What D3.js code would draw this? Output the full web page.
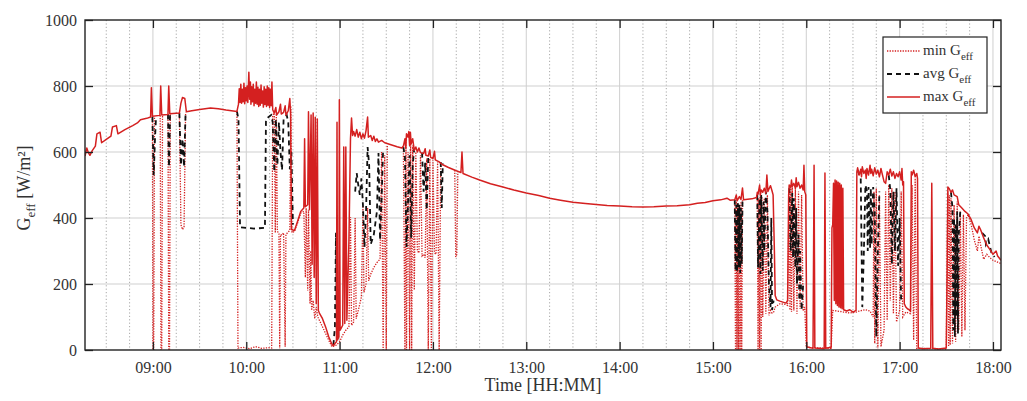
<!DOCTYPE html>
<html>
<head>
<meta charset="utf-8">
<script src="https://cdn.jsdelivr.net/npm/d3@7"></script>
<style>
  body { margin: 0; background: #fff; }
  svg { display: block; font-family: "Liberation Serif", "DejaVu Serif", serif; }
</style>
</head>
<body>
<svg id="chart" width="1027" height="401"></svg>
<script>
// Axis ticks
const hourTicks = ["09:00", "10:00", "11:00", "12:00", "13:00", "14:00", "15:00", "16:00", "17:00", "18:00"];
const yTicks = [0, 200, 400, 600, 800, 1000];
const timeRange = ["08:16:20", "18:05:10"];
const legendNames = ["min", "avg", "max"];

// Maximum effective irradiance per interval [time, W/m²]
const maxSeries = [
  ["08:16:20", 588], ["08:17:30", 612], ["08:18:30", 598], ["08:19:30", 590], ["08:21", 604],
  ["08:23", 618], ["08:24", 655], ["08:26", 660], ["08:27", 628], ["08:30", 638],
  ["08:33", 648], ["08:34", 676], ["08:36:30", 680], ["08:37:30", 655], ["08:42", 668],
  ["08:47", 680], ["08:50", 688], ["08:52", 698], ["08:56", 702], ["08:58:30", 706],
  ["08:59", 795], ["08:59:40", 708], ["09:04:30", 711], ["09:05", 800], ["09:05:40", 712],
  ["09:09:40", 714], ["09:10:10", 800], ["09:10:50", 716], ["09:17", 718], ["09:18", 748],
  ["09:19", 765], ["09:20:30", 762], ["09:21:30", 722], ["09:25", 725], ["09:30", 729],
  ["09:37", 733], ["09:42", 731], ["09:47", 727], ["09:54", 723],
  ["09:55", 745], ["09:55:30", 792], ["09:56", 750], ["09:56:30", 805], ["09:57", 748], ["09:57:30", 790],
  ["09:58", 752], ["09:58:30", 808], ["09:59", 746], ["09:59:30", 795], ["10:00", 755], ["10:00:30", 800],
  ["10:01", 750], ["10:01:40", 842], ["10:02:10", 760], ["10:02:40", 812], ["10:03", 745], ["10:03:30", 798],
  ["10:04", 752], ["10:04:30", 805], ["10:05", 740], ["10:05:30", 790], ["10:06", 748], ["10:06:30", 812],
  ["10:07", 745], ["10:07:30", 796], ["10:08", 738], ["10:08:30", 790], ["10:09", 742], ["10:09:30", 803],
  ["10:10", 748], ["10:10:30", 785], ["10:11", 736], ["10:11:30", 798], ["10:12", 744], ["10:12:30", 790],
  ["10:13", 738], ["10:13:30", 800], ["10:14", 742], ["10:14:30", 795], ["10:15", 735], ["10:15:30", 790],
  ["10:16", 740], ["10:16:30", 812], ["10:17", 728],
  ["10:18", 718], ["10:19", 735], ["10:19:30", 712], ["10:21", 722], ["10:22", 745], ["10:22:30", 715],
  ["10:24", 720], ["10:25", 740], ["10:25:30", 712], ["10:27", 725], ["10:28", 762], ["10:28:30", 715],
  ["10:29", 365], ["10:31", 362], ["10:33", 390], ["10:35", 420], ["10:37", 430], ["10:37:30", 640],
  ["10:38", 434], ["10:39:30", 440], ["10:40", 722], ["10:40:40", 425], ["10:41:40", 712], ["10:42:20", 260],
  ["10:43", 718], ["10:43:40", 220], ["10:44:20", 705], ["10:45", 140], ["10:45:40", 700], ["10:46:20", 120],
  ["10:47", 112], ["10:49", 95],
  ["10:51", 70], ["10:53", 40], ["10:55", 18], ["10:56", 12], ["10:57", 20], ["10:58", 25],
  ["10:58:20", 690], ["10:58:40", 30], ["10:59:30", 40], ["10:59:50", 758], ["11:00:20", 60], ["11:02", 75],
  ["11:02:40", 615], ["11:03:20", 80], ["11:04", 615], ["11:04:40", 90], ["11:06", 330], ["11:07", 640],
  ["11:07:40", 703], ["11:08:20", 650],
  ["11:09", 662], ["11:10", 648], ["11:11", 668], ["11:12", 645], ["11:13", 660], ["11:14", 640],
  ["11:15", 655], ["11:16", 642], ["11:17", 665], ["11:18", 706], ["11:18:30", 645], ["11:20", 650],
  ["11:21", 635], ["11:22", 648], ["11:23", 632], ["11:24", 640], ["11:25", 630], ["11:27", 635],
  ["11:29", 628], ["11:33", 622], ["11:37", 616], ["11:40", 612],
  ["11:41", 618], ["11:42", 640], ["11:42:30", 612], ["11:43", 655], ["11:44", 645], ["11:44:30", 662],
  ["11:45", 620], ["11:45:30", 660], ["11:46", 625], ["11:47", 640], ["11:48", 605], ["11:49", 615],
  ["11:50", 600], ["11:51", 612], ["11:52", 598], ["11:54", 595], ["11:55", 610], ["11:55:30", 590],
  ["11:57", 588], ["11:58", 606], ["11:58:30", 584], ["12:00", 580], ["12:01", 602], ["12:01:30", 576],
  ["12:04", 570], ["12:06", 562], ["12:10", 553], ["12:15", 543], ["12:18", 538], ["12:18:40", 600],
  ["12:19:20", 535], ["12:25", 524], ["12:30", 515], ["12:37", 504], ["12:45", 494], ["12:52", 485],
  ["13:00", 476], ["13:08", 468], ["13:15", 460], ["13:22", 454], ["13:30", 448], ["13:38", 444],
  ["13:45", 441], ["13:52", 438], ["14:00", 436], ["14:08", 434], ["14:15", 433], ["14:22", 434],
  ["14:30", 436], ["14:37", 437], ["14:45", 440], ["14:50", 445], ["14:55", 447], ["15:00", 452],
  ["15:05", 455], ["15:09", 460], ["15:11", 454], ["15:14", 455],
  ["15:15", 470], ["15:15:30", 452], ["15:17", 465], ["15:18", 456], ["15:19", 491], ["15:19:40", 455],
  ["15:21", 456], ["15:25", 458], ["15:28", 462],
  ["15:28:30", 478], ["15:29", 472], ["15:30", 500], ["15:30:30", 470], ["15:31", 485], ["15:32", 478],
  ["15:33", 490], ["15:34", 475], ["15:34:40", 530], ["15:35:20", 480], ["15:36", 488], ["15:37", 498],
  ["15:38", 482], ["15:38:40", 470], ["15:39:30", 300], ["15:40", 165], ["15:41", 152], ["15:43", 148],
  ["15:45", 145], ["15:47", 142], ["15:48", 150], ["15:48:40", 470], ["15:49", 500], ["15:50", 492],
  ["15:50:30", 515], ["15:51", 496], ["15:52", 505], ["15:53", 490], ["15:53:30", 522], ["15:54", 495],
  ["15:55", 508], ["15:56", 490], ["15:57", 500], ["15:58", 485], ["15:58:30", 560], ["15:59", 480],
  ["15:59:40", 470], ["16:00:20", 10], ["16:04:20", 5], ["16:05", 560], ["16:05:30", 6], ["16:11:30", 4],
  ["16:12", 536], ["16:12:30", 5], ["16:16", 8], ["16:16:30", 370], ["16:17", 380], ["16:17:30", 505],
  ["16:18", 150], ["16:18:30", 515], ["16:19", 140], ["16:19:30", 512], ["16:20", 135], ["16:20:30", 508],
  ["16:21", 130], ["16:21:30", 505], ["16:22", 128], ["16:22:30", 500], ["16:23", 125], ["16:23:30", 490],
  ["16:24", 122], ["16:26", 118], ["16:28", 122], ["16:30", 115], ["16:32", 120], ["16:32:30", 540],
  ["16:33", 552], ["16:34", 530], ["16:35", 548], ["16:35:30", 525], ["16:36", 555], ["16:37", 535],
  ["16:38", 545], ["16:38:30", 520], ["16:39", 550], ["16:40", 530], ["16:41", 560], ["16:41:30", 535],
  ["16:42", 548], ["16:43", 528], ["16:44", 552], ["16:45", 533], ["16:46", 545], ["16:47", 525],
  ["16:48", 550], ["16:49", 530], ["16:50", 510], ["16:51", 505], ["16:52", 540], ["16:53", 530],
  ["16:54", 548], ["16:55", 527], ["16:56", 540], ["16:57", 520], ["16:58", 535], ["16:59", 525],
  ["17:00", 540], ["17:01", 515], ["17:01:30", 550], ["17:02", 500], ["17:02:30", 510], ["17:03", 140],
  ["17:04", 130], ["17:05", 125], ["17:06", 122], ["17:07", 118], ["17:07:30", 540], ["17:08", 530],
  ["17:09", 545], ["17:10", 525], ["17:11", 535], ["17:11:30", 520], ["17:12", 6], ["17:15", 4],
  ["17:20", 5], ["17:20:40", 505], ["17:21:20", 5], ["17:25", 3], ["17:30", 6], ["17:30:40", 300],
  ["17:31", 494], ["17:32", 488], ["17:33", 478], ["17:34", 485], ["17:35", 470], ["17:37", 465],
  ["17:38", 440], ["17:40", 430], ["17:42", 420], ["17:44", 412], ["17:46", 395], ["17:48", 370],
  ["17:50", 355], ["17:51", 375], ["17:52", 365], ["17:54", 340], ["17:56", 318], ["17:58", 305],
  ["18:00", 290], ["18:02", 300], ["18:03", 285], ["18:05:10", 272]
];

// Mean effective irradiance, only where it departs from the clear-sky trace (null = gap)
const avgSeries = [
  ["08:59:40", 706], ["09:00:30", 530], ["09:01:20", 640], ["09:02", 706], null,
  ["09:09:40", 714], ["09:10:20", 555], ["09:11", 714], null,
  ["09:17", 718], ["09:18", 560], ["09:19", 640], ["09:20", 555], ["09:21", 720], null,
  ["09:54", 723], ["09:55", 700], ["09:56", 372], ["10:05", 368], ["10:12", 370], ["10:12:40", 700], ["10:16", 712],
  ["10:17", 690], ["10:18", 540], ["10:19", 700], ["10:20", 560], ["10:21", 690], ["10:22", 600],
  ["10:23", 545], ["10:24", 700], ["10:26", 712], ["10:27", 690], ["10:28", 548], ["10:29", 600], ["10:30", 380], null,
  ["10:56", 15], ["10:57", 70], ["10:57:40", 355], ["10:58:20", 60], ["10:59", 40], null,
  ["11:10", 480], ["11:11", 536], ["11:12", 500], ["11:13", 470], ["11:14", 520], ["11:15", 440],
  ["11:16", 312], ["11:17", 420], ["11:18", 615], ["11:19", 560], ["11:20", 320], ["11:22", 350],
  ["11:24", 420], ["11:25", 597], ["11:26", 333], ["11:27", 460], ["11:28", 610], null,
  ["11:41", 615], ["11:42", 585], ["11:43", 312], ["11:44", 450], ["11:45", 590], ["11:46", 340],
  ["11:47", 560], ["11:48", 610], null,
  ["11:53", 598], ["11:54", 480], ["11:55", 567], ["11:56", 424], ["11:57", 588], null,
  ["12:05", 570], ["12:05:40", 430], ["12:06:20", 565], null,
  ["15:14", 455], ["15:14:30", 240], ["15:15", 440], ["15:15:30", 235], ["15:16", 445], ["15:16:30", 250],
  ["15:17", 440], ["15:17:30", 233], ["15:18", 430], ["15:18:30", 260], ["15:19", 455], null,
  ["15:28:30", 470], ["15:29", 250], ["15:30", 460], ["15:30:30", 230], ["15:31", 470], ["15:32", 240],
  ["15:32:30", 450], ["15:33", 300], ["15:34", 480], ["15:35", 420], ["15:36", 200], ["15:37", 130],
  ["15:37:30", 400], ["15:38", 121], ["15:39", 150], null,
  ["15:49", 490], ["15:50", 300], ["15:51", 476], ["15:51:30", 280], ["15:52", 460], ["15:53", 250],
  ["15:53:30", 430], ["15:54", 200], ["15:55", 350], ["15:55:30", 150], ["15:56", 300], ["15:57", 121],
  ["15:58", 200], null,
  ["16:33", 545], ["16:35", 520], ["16:36", 130], ["16:37", 294], ["16:38", 500], ["16:39", 480],
  ["16:39:30", 300], ["16:40", 494], ["16:41", 310], ["16:41:30", 490], ["16:42", 320], ["16:43", 494],
  ["16:44", 420], ["16:45", 40], ["16:46", 300], ["16:47", 480], null,
  ["16:53", 530], ["16:54", 485], ["16:55", 260], ["16:56", 480], ["16:57", 300], ["16:58", 490],
  ["16:59", 255], ["17:00", 400], ["17:01", 140], null,
  ["17:33", 478], ["17:34", 430], ["17:34:30", 60], ["17:35", 400], ["17:35:30", 40], ["17:36", 380],
  ["17:36:30", 100], ["17:37", 420], ["17:37:30", 50], ["17:38", 350], ["17:39", 420], null,
  ["17:53", 355], ["17:55", 345], ["17:55:30", 320], ["17:57", 335], ["17:59", 295], ["18:01", 282]
];

// Minimum effective irradiance, only where it departs from the clear-sky trace (null = gap)
const minSeries = [
  ["08:59:40", 708], ["09:00", 0], ["09:00:30", 0], ["09:01", 706], null,
  ["09:04:40", 711], ["09:05:10", 0], ["09:05:40", 0], ["09:06:10", 712], null,
  ["09:09:40", 714], ["09:10:10", 0], ["09:10:40", 0], ["09:11:10", 716], null,
  ["09:17", 718], ["09:18", 380], ["09:19", 365], ["09:20", 372], ["09:21", 720], null,
  ["09:54", 723], ["09:54:40", 6], ["09:58", 8], ["10:02", 4], ["10:06", 10], ["10:10", 5], ["10:14", 7],
  ["10:16:20", 6], ["10:17", 712], ["10:18", 718], ["10:18:40", 355], ["10:19:20", 720], ["10:20", 360],
  ["10:21", 352], ["10:21:30", 5], ["10:22", 350], ["10:23", 348], ["10:24", 355], ["10:25", 10],
  ["10:25:30", 350], ["10:27", 358], ["10:28", 362], ["10:28:40", 740], ["10:29:20", 355], ["10:31", 360],
  ["10:33", 385], ["10:35", 415], ["10:37", 420], ["10:38", 220], ["10:38:30", 430], ["10:39:30", 180],
  ["10:40", 425], ["10:41", 140], ["10:41:30", 300], ["10:42", 120], ["10:43", 150], ["10:44", 95],
  ["10:45", 130], ["10:46", 100], ["10:47", 90], ["10:50", 60], ["10:53", 30], ["10:55", 10], ["10:58", 15],
  ["11:00", 25], ["11:02", 45], ["11:04", 60], ["11:06", 70], ["11:07", 403], ["11:07:40", 75], ["11:09", 85],
  ["11:10", 400], ["11:10:40", 95], ["11:12", 120], ["11:14", 160], ["11:15", 433], ["11:15:40", 175],
  ["11:17", 200], ["11:18", 430], ["11:18:40", 210], ["11:20", 230], ["11:22", 250], ["11:24", 265],
  ["11:26", 275], ["11:27", 600], ["11:28", 0], ["11:29", 590], ["11:30", 0], ["11:30:40", 620], null,
  ["11:41", 612], ["11:42", 0], ["11:42:40", 640], ["11:43", 0], ["11:44", 600], ["11:45", 0],
  ["11:45:40", 630], ["11:46:20", 0], ["11:47", 620], ["11:48", 182], ["11:49", 600], ["11:50", 300],
  ["11:51", 294], ["11:52", 590], ["11:53", 285], ["11:54", 290], ["11:55", 280], ["11:56", 580],
  ["11:57", 0], ["11:58", 580], ["11:59", 0], ["12:00", 575], ["12:01", 294], ["12:02", 290], ["12:03", 570],
  ["12:04", 0], ["12:05", 565], ["12:06", 562], null,
  ["12:14", 545], ["12:14:40", 282], ["12:15:20", 290], ["12:16", 542], null,
  ["15:14", 455], ["15:14:30", 0], ["15:15", 450], ["15:15:30", 0], ["15:16", 445], ["15:16:30", 0],
  ["15:17", 440], ["15:17:30", 0], ["15:18", 450], ["15:18:30", 0], ["15:19", 455], null,
  ["15:28:30", 470], ["15:29", 0], ["15:29:30", 460], ["15:30", 0], ["15:30:30", 470], ["15:31", 0],
  ["15:31:30", 465], ["15:32", 100], ["15:33", 460], ["15:34", 110], ["15:35", 470], ["15:36", 105],
  ["15:37", 120], ["15:38", 112], ["15:39", 115], ["15:40", 130], ["15:43", 140], ["15:47", 138],
  ["15:48", 135], ["15:49", 480], ["15:49:30", 121], ["15:50", 490], ["15:50:30", 115], ["15:51", 495],
  ["15:52", 120], ["15:53", 490], ["15:54", 110], ["15:55", 480], ["15:56", 125], ["15:57", 470],
  ["15:58", 118], ["15:59", 130], ["16:00", 8], ["16:16", 5], ["16:17", 120], ["16:20", 118],
  ["16:24", 115], ["16:28", 112], ["16:32", 115], ["16:34", 118], ["16:38", 122], ["16:41", 118],
  ["16:43", 100], ["16:43:30", 480], ["16:44", 20], ["16:45", 490], ["16:46", 5], ["16:47", 470],
  ["16:48", 10], ["16:49", 35], ["16:50", 60], ["16:51", 480], ["16:52", 90], ["16:53", 500],
  ["16:54", 150], ["16:55", 490], ["16:56", 110], ["16:57", 480], ["16:58", 85], ["17:00", 120],
  ["17:01", 480], ["17:02", 100], ["17:04", 115], ["17:07", 110], ["17:08", 500], ["17:09", 30],
  ["17:10", 520], ["17:11", 5], ["17:30", 3], ["17:31", 480], ["17:31:30", 10], ["17:32", 470],
  ["17:32:30", 15], ["17:33", 460], ["17:34", 20], ["17:35", 440], ["17:36", 25], ["17:37", 450],
  ["17:38", 60], ["17:39", 420], ["17:40", 40], ["17:41", 410], ["17:42", 60], ["17:43", 400],
  ["17:44", 410], ["17:46", 380], ["17:48", 333], ["17:50", 300], ["17:51", 345], ["17:52", 320],
  ["17:54", 275], ["17:56", 290], ["17:58", 280], ["18:00", 272], ["18:02", 268], ["18:05:10", 262]
];

const RED = "#d42020";

const parseT = s => {
  const [h, m, sec] = s.split(":").map(Number);
  return new Date(2020, 0, 1, h, m, sec || 0);
};
const toRows = arr => arr.map(d => d ? { t: parseT(d[0]), v: d[1] } : null);

const svg = d3.select("#chart");
const L = 85, R = 1001, T = 20, B = 350;

const x = d3.scaleTime().domain(timeRange.map(parseT)).range([L, R]);
const y = d3.scaleLinear().domain([0, 1000]).range([B, T]);

// Grid: dotted quarter-hour lines, light solid hour and value lines
const quarterHours = d3.timeMinute.every(15).range(x.domain()[0], x.domain()[1])
  .filter(d => d.getMinutes() !== 0);
svg.append("g").selectAll("line").data(quarterHours).join("line")
  .attr("x1", d => x(d)).attr("x2", d => x(d)).attr("y1", T).attr("y2", B)
  .attr("stroke", "#a8a8a8").attr("stroke-width", 1).attr("stroke-dasharray", "1.2,2.2");
svg.append("g").selectAll("line").data(hourTicks.map(parseT)).join("line")
  .attr("x1", d => x(d)).attr("x2", d => x(d)).attr("y1", T).attr("y2", B)
  .attr("stroke", "#cfcfcf").attr("stroke-width", 1);
svg.append("g").selectAll("line").data(yTicks.slice(1, -1)).join("line")
  .attr("x1", L).attr("x2", R).attr("y1", d => y(d)).attr("y2", d => y(d))
  .attr("stroke", "#cfcfcf").attr("stroke-width", 1);

// Data lines
svg.append("defs").append("clipPath").attr("id", "plotClip")
  .append("rect").attr("x", L).attr("y", T - 2).attr("width", R - L).attr("height", B - T + 2);

const line = d3.line().defined(d => d !== null).x(d => x(d.t)).y(d => y(d.v));
const plot = svg.append("g").attr("clip-path", "url(#plotClip)");

plot.append("path").attr("d", line(toRows(minSeries)))
  .attr("fill", "none").attr("stroke", RED).attr("stroke-width", 1.3)
  .attr("stroke-dasharray", "1.3,1.3");
plot.append("path").attr("d", line(toRows(avgSeries)))
  .attr("fill", "none").attr("stroke", "#111").attr("stroke-width", 1.8)
  .attr("stroke-dasharray", "5,4");
plot.append("path").attr("d", line(toRows(maxSeries)))
  .attr("fill", "none").attr("stroke", RED).attr("stroke-width", 1.5)
  .attr("stroke-linejoin", "round");

// Axes with inward ticks on all four sides
const fmt = d3.timeFormat("%H:%M");
const tickX = hourTicks.map(parseT);
const axB = svg.append("g").attr("transform", `translate(0,${B})`)
  .call(d3.axisBottom(x).tickValues(tickX).tickFormat(fmt).tickSizeInner(-8).tickSizeOuter(0).tickPadding(12));
const axT = svg.append("g").attr("transform", `translate(0,${T})`)
  .call(d3.axisTop(x).tickValues(tickX).tickFormat("").tickSizeInner(-8).tickSizeOuter(0));
const axL = svg.append("g").attr("transform", `translate(${L},0)`)
  .call(d3.axisLeft(y).tickValues(yTicks).tickFormat(d3.format("d")).tickSizeInner(-8).tickSizeOuter(0).tickPadding(8));
const axR = svg.append("g").attr("transform", `translate(${R},0)`)
  .call(d3.axisRight(y).tickValues(yTicks).tickFormat("").tickSizeInner(-8).tickSizeOuter(0));
[axB, axT, axL, axR].forEach(a => {
  a.select(".domain").remove();
  a.selectAll(".tick line").attr("stroke", "#222").attr("stroke-width", 1.3);
  a.selectAll(".tick text").attr("fill", "#333").attr("font-size", 16)
    .attr("font-family", "'Liberation Serif', serif");
});
svg.append("rect").attr("x", L).attr("y", T).attr("width", R - L).attr("height", B - T)
  .attr("fill", "none").attr("stroke", "#222").attr("stroke-width", 1.4);

// Axis titles
svg.append("text").attr("x", (L + R) / 2).attr("y", 391).attr("text-anchor", "middle")
  .attr("font-size", 18).attr("fill", "#333").text("Time [HH:MM]");
const yl = svg.append("text").attr("transform", "translate(30,188) rotate(-90)")
  .attr("text-anchor", "middle").attr("font-size", 18).attr("fill", "#333");
yl.append("tspan").text("G");
yl.append("tspan").attr("dy", 5).attr("font-size", 13).text("eff");
yl.append("tspan").attr("dy", -5).text(" [W/m²]");

// Legend
const lg = svg.append("g");
lg.append("rect").attr("x", 883).attr("y", 37).attr("width", 104).attr("height", 76)
  .attr("fill", "#fff").attr("stroke", "#222").attr("stroke-width", 1.2);
const legendStyles = [
  { stroke: RED, width: 1.3, dash: "1.3,1.3" },
  { stroke: "#111", width: 1.8, dash: "5,4" },
  { stroke: RED, width: 1.5, dash: null }
];
legendNames.forEach((name, i) => {
  const cy = 51 + i * 23;
  const st = legendStyles[i];
  lg.append("line").attr("x1", 887).attr("x2", 920).attr("y1", cy).attr("y2", cy)
    .attr("stroke", st.stroke).attr("stroke-width", st.width)
    .attr("stroke-dasharray", st.dash);
  const tx = lg.append("text").attr("x", 923).attr("y", cy + 4).attr("font-size", 15).attr("fill", "#333");
  tx.append("tspan").text(name + " G");
  tx.append("tspan").attr("dy", 5).attr("font-size", 11).text("eff");
});
</script>
</body>
</html>
